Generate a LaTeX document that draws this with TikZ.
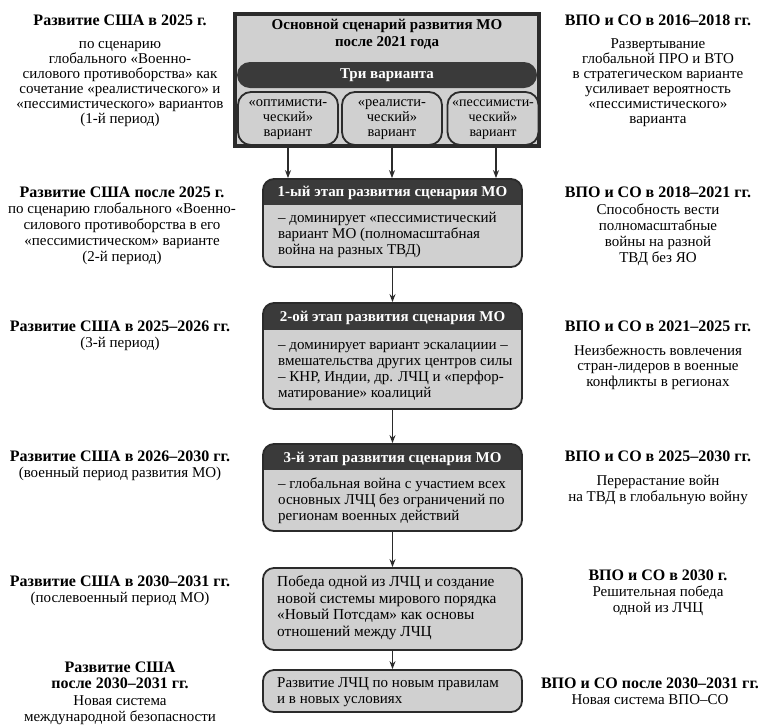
\documentclass[tikz,border=0pt]{standalone}
\usepackage{fontspec}
\setmainfont{Liberation Serif}
\usetikzlibrary{arrows.meta}
\definecolor{boxgray}{HTML}{D0D0D0}
\definecolor{hdrdark}{HTML}{3A3A3A}
\definecolor{linedark}{HTML}{2B2B2B}
\newcommand\sidettl[1]{{\fontsize{16}{16}\selectfont\bfseries\strut #1}}
\newcommand\fs[2]{\fontsize{#1}{#2}\selectfont\lineskiplimit=-100pt\relax}
\begin{document}
\begin{tikzpicture}[x=1pt,y=-1pt,
  side/.style={align=center, inner sep=0pt, anchor=north, font=\fs{15}{15.5}},
  stagebox/.style={draw=linedark, line width=1.8pt, fill=boxgray, rounded corners=11pt, minimum width=259pt, inner sep=0pt},
  hdr/.style={path picture={
    \fill[hdrdark] ([yshift=5pt]path picture bounding box.north west) rectangle ([yshift=-#1-7pt]path picture bounding box.north east);
    \fill[boxgray, rounded corners=7pt] ([xshift=-5pt,yshift=-#1]path picture bounding box.north west) rectangle ([xshift=5pt,yshift=-5pt]path picture bounding box.south east);}},
  hdrtext/.style={anchor=base, inner sep=0pt, text=white, font=\fs{15}{16}\bfseries},
  body/.style={anchor=north west, inner sep=0pt, align=left, font=\fs{15}{16}},
  varbox/.style={draw=linedark, line width=1.8pt, fill=boxgray, rounded corners=13pt, minimum height=53pt, inner sep=0pt, align=center, font=\fs{14.5}{15}},
  arr/.style={draw=linedark, line width=1.2pt, -{Stealth[length=8pt,width=6pt]}}
]
\useasboundingbox (0,0) rectangle (768,724);
\fill[white] (0,0) rectangle (768,724);

% main box
\node[draw=linedark, line width=4pt, fill=boxgray, minimum width=304pt, minimum height=132pt, inner sep=0pt] (main) at (387,80) {};
\node[side, font=\fs{15}{17}\bfseries] (maintitle) at (387,17.1) {\strut Основной сценарий развития МО\\после 2021 года};
\node[fill=hdrdark, rounded corners=13pt, minimum width=300pt, minimum height=26pt, inner sep=0pt, text=white, font=\fs{15}{16}\bfseries] (pill) at (387,75) {Три варианта};
\node[varbox, minimum width=100pt] (v1) at (288,118.5) {\strut«оптимисти-\\ческий»\\вариант\strut};
\node[varbox, minimum width=100pt] (v2) at (392,118.5) {\strut«реалисти-\\ческий»\\вариант\strut};
\node[varbox, minimum width=91pt, font=\fs{14}{15}] (v3) at (493,118.5) {\strut«пессимисти-\\ческий»\\вариант\strut};

% stages
\node[stagebox, minimum height=88pt, hdr=26pt] (s1) at (392.5,223) {};
\node[hdrtext] (s1h) at (392.5,196) {1-ый этап развития сценария МО};
\node[body] (s1b) at (278,210.8) {\strut– доминирует «пессимистический\\вариант МО (полномасштабная\\война на разных ТВД)};

\node[stagebox, minimum height=106pt, hdr=27pt] (s2) at (392.5,356) {};
\node[hdrtext] (s2h) at (392.5,321) {2-ой этап развития сценария МО};
\node[body] (s2b) at (278,337.8) {\strut– доминирует вариант эскалациии –\\вмешательства других центров силы\\– КНР, Индии, др. ЛЧЦ и «перфор-\\матирование» коалиций};

\node[stagebox, minimum height=87pt, hdr=26pt] (s3) at (392.5,487.5) {};
\node[hdrtext] (s3h) at (392.5,462) {3-й этап развития сценария МО};
\node[body] (s3b) at (278,476.8) {\strut– глобальная война с участием всех\\основных ЛЧЦ без ограничений по\\регионам военных действий};

\node[stagebox, minimum height=82pt] (s4) at (392.5,609) {};
\node[body, font=\fs{15.3}{16.5}] (s4b) at (277,574.8) {\strut Победа одной из ЛЧЦ и создание\\новой системы мирового порядка\\«Новый Потсдам» как основы\\отношений между ЛЧЦ};

\node[stagebox, minimum height=42pt] (s5) at (392.5,691) {};
\node[body] (s5b) at (277,675.8) {\strut Развитие ЛЧЦ по новым правилам\\и в новых условиях};

% arrows
\draw[arr] (v1.south |- main.south) -- (v1.south |- s1.north);
\draw[arr] (v2.south |- main.south) -- (v2.south |- s1.north);
\draw[arr] ([xshift=3pt]v3.south |- main.south) -- ([xshift=3pt]v3.south |- s1.north);
\draw[arr] (s1) -- (s2);
\draw[arr] (s2) -- (s3);
\draw[arr] (s3) -- (s4);
\draw[arr] (s4) -- (s5);

% left column
\node[side, font=\fs{15}{15}] (l1) at (120,14.1) {\sidettl{Развитие США в 2025 г.}\\[8pt]по сценарию\\глобального «Военно-\\силового противоборства» как\\сочетание «реалистического» и\\«пессимистического» вариантов\\(1-й период)};
\node[side, font=\fs{15}{16}] (l2) at (122,186.1) {\sidettl{Развитие США после 2025 г.}\\по сценарию глобального «Военно-\\силового противоборства в его\\«пессимистическом» варианте\\(2-й период)};
\node[side, font=\fs{15}{16}] (l3) at (120,320.1) {\sidettl{Развитие США в 2025–2026 гг.}\\(3-й период)};
\node[side, font=\fs{15}{16}] (l4) at (120,450.1) {\sidettl{Развитие США в 2026–2030 гг.}\\(военный период развития МО)};
\node[side, font=\fs{15}{16}] (l5) at (120,575.1) {\sidettl{Развитие США в 2030–2031 гг.}\\(послевоенный период МО)};
\node[side, font=\fs{15}{16.3}] (l6) at (120,661.1) {\sidettl{Развитие США}\\\sidettl{после 2030–2031 гг.}\\Новая система\\международной безопасности};

% right column
\node[side, font=\fs{15}{15}] (r1) at (658,14.1) {\sidettl{ВПО и СО в 2016–2018 гг.}\\[8pt]Развертывание\\глобальной ПРО и ВТО\\в стратегическом варианте\\усиливает вероятность\\«пессимистического»\\варианта};
\node[side, font=\fs{15}{16}] (r2) at (658,186.1) {\sidettl{ВПО и СО в 2018–2021 гг.}\\[1.4pt]Способность вести\\полномасштабные\\войны на разной\\ТВД без ЯО};
\node[side, font=\fs{15}{15.5}] (r3) at (658,320.1) {\sidettl{ВПО и СО в 2021–2025 гг.}\\[8pt]Неизбежность вовлечения\\стран-лидеров в военные\\конфликты в регионах};
\node[side, font=\fs{15}{16}] (r4) at (658,450.1) {\sidettl{ВПО и СО в 2025–2030 гг.}\\[7.5pt]Перерастание войн\\на ТВД в глобальную войну};
\node[side, font=\fs{15}{16}] (r5) at (658,569.1) {\sidettl{ВПО и СО в 2030 г.}\\Решительная победа\\одной из ЛЧЦ};
\node[side, font=\fs{15}{16.4}] (r6) at (650,677.1) {\sidettl{ВПО и СО после 2030–2031 гг.}\\Новая система ВПО–СО};
\end{tikzpicture}
\end{document}
